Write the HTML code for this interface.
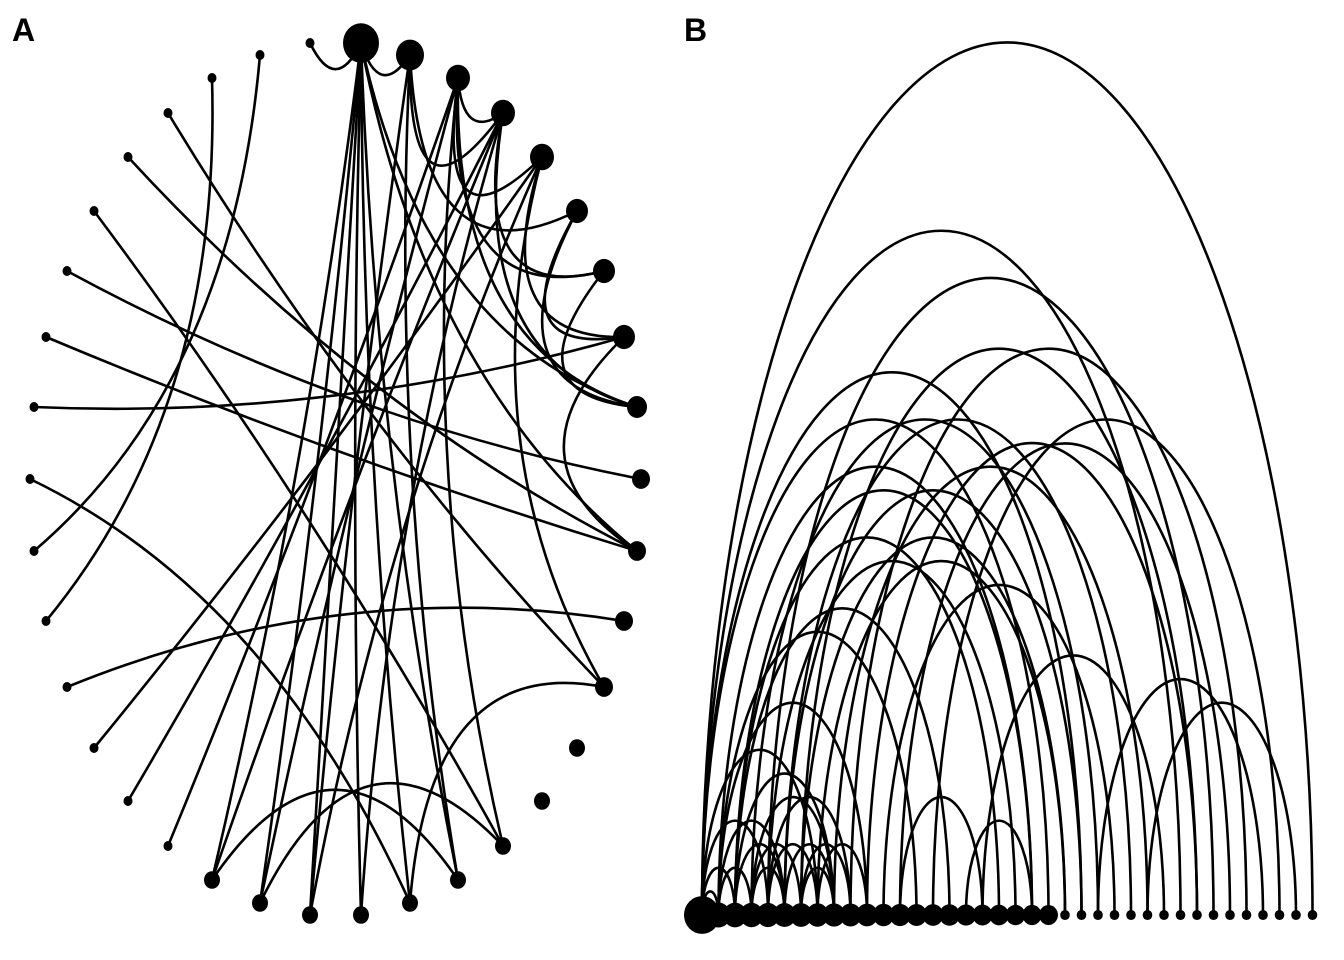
<!DOCTYPE html>
<html><head><meta charset="utf-8"><style>
html,body{margin:0;padding:0;background:#fff;}
svg{display:block;}
</style></head><body>
<svg id="s" width="1344" height="960" xmlns="http://www.w3.org/2000/svg">
<text x="12" y="41" font-family="Liberation Sans, sans-serif" font-weight="bold" font-size="32">A</text>
<text x="684" y="41" font-family="Liberation Sans, sans-serif" font-weight="bold" font-size="32">B</text>
<g id="ea" fill="none" stroke="#000" stroke-width="2.6"></g>
<g id="eb" fill="none" stroke="#000" stroke-width="2.6"></g>
<g id="na" fill="#000"></g>
<g id="nb" fill="#000"></g>
</svg>
<script>
var NS="http://www.w3.org/2000/svg";
function el(p,t,a){var e=document.createElementNS(NS,t);for(var k in a)e.setAttribute(k,a[k]);document.getElementById(p).appendChild(e);}
var A=[[361,43,18],[410,55,14],[458,78,12],[503,113,12],[542,157,12],[577,211,11],[604,271,11],[624,337,11],[637,407,10],[641,479,9],[637,551,9],[624,621,9],[604,687,9],[577,748,8],[542,801,8],[503,846,8],[458,880,8],[410,903,8],[361,915,8],[310,915,8],[260,903,8],[212,880,8],
[168,846,4.5],[128,801,4.5],[94,748,4.5],[67,687,4.5],[46,621,4.5],[34,551,4.5],[30,479,4.5],[34,407,4.5],[46,337,4.5],[67,271,4.5],[94,211,4.5],[128,157,4.5],[168,113,4.5],[212,78,4.5],[260,55,4.5],[310,43,4.5]];
var EA=[[37,0],[0,1],[2,3],[1,3],[2,4],[3,6],[1,5],[2,6],[4,7],[5,7],[5,8],[6,8],[3,8],[0,8],[2,8],[7,10],[4,12],[0,10],
[0,18],[0,19],[0,20],[0,17],[0,21],[0,16],[1,16],[1,19],[2,20],[3,21],[4,19],[3,18],[2,15],
[36,27],[35,26],[34,12],[33,10],[32,15],[31,9],[30,10],[29,7],[28,17],[25,11],[24,4],[23,3],[22,2],
[21,16],[20,15],[17,12]];
var cx=335,cy=479;
EA.forEach(function(e){var p=A[e[0]],q=A[e[1]];var mx=(p[0]+q[0])/2,my=(p[1]+q[1])/2;
var d=Math.hypot(p[0]-q[0],p[1]-q[1]);var k=d<80?0.12:(d<200?0.4:0.45);
var qx=mx+(cx-mx)*k,qy=my+(cy-my)*k;
el("ea","path",{d:"M"+p[0]+" "+p[1]+" Q"+qx+" "+qy+" "+q[0]+" "+q[1]});});
A.forEach(function(n){el("na","ellipse",{cx:n[0],cy:n[1],rx:n[2],ry:n[2]*1.1});});
var X=function(i){return 702+16.5*i;};
var EB=[[0,37],[0,29],[4,31],[0,23],[9,33],[0,21],[12,32],[1,20],[2,20],[2,18],[4,19],[11,25],[2,15],[1,13],[17,28],[24,34],[1,10],[27,36],[0,7],[2,8],[3,8],[0,4],[2,5],[7,10],[12,17],[16,20],
[3,24],[5,26],[6,30],[8,27],[7,22],[6,22],[5,23],[10,30],[14,35],
[4,7],[5,8],[1,3],[3,6],[1,5],[4,9],[6,9],[0,2],[0,1],[3,5],[6,8]];
EB.forEach(function(e){var a=X(e[0]),b=X(e[1]);var rx=(b-a)/2,ry=rx*2.86;
el("eb","path",{d:"M"+a+" 915 A"+rx+" "+ry+" 0 0 1 "+b+" 915"});});
for(var i=0;i<38;i++){var r=i==0?18:(i<22?(12-i*0.12):4.8);el("nb","ellipse",{cx:X(i),cy:915,rx:r,ry:r*1.05});}
</script>
</body></html>
